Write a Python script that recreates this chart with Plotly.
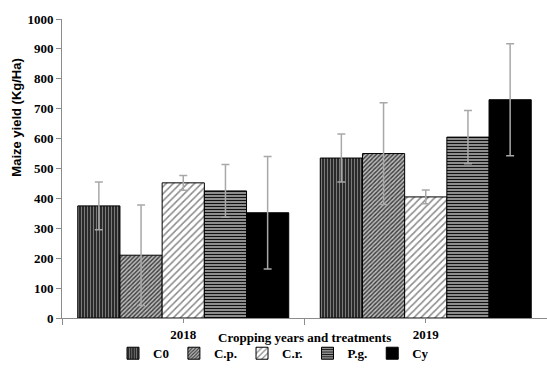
import plotly.graph_objects as go

years = ["2018", "2019"]
treatments = ["C0", "C.p.", "C.r.", "P.g.", "Cy"]

# mean yield (Kg/Ha) per treatment, one value per year
yield_mean = {
    "C0":   [375, 535],
    "C.p.": [210, 550],
    "C.r.": [452, 405],
    "P.g.": [425, 605],
    "Cy":   [352, 730],
}
# standard deviation per treatment, one value per year
yield_sd = {
    "C0":   [80, 80],
    "C.p.": [168, 170],
    "C.r.": [25, 23],
    "P.g.": [88, 89],
    "Cy":   [188, 187],
}

y_ticks = list(range(0, 1001, 100))

fills = {
    "C0":   dict(shape="|", bgcolor="#2a2a2a", fgcolor="#7a7a7a", size=3, solidity=0.35),
    "C.p.": dict(shape="/", bgcolor="#bcbcbc", fgcolor="#3a3a3a", size=3, solidity=0.45),
    "C.r.": dict(shape="/", bgcolor="#ffffff", fgcolor="#8a8a8a", size=5, solidity=0.3),
    "P.g.": dict(shape="-", bgcolor="#c8c8c8", fgcolor="#111111", size=3, solidity=0.55),
    "Cy":   dict(shape="", bgcolor="#000000", fgcolor="#000000", size=4, solidity=0.5),
}

serif = "Liberation Serif"
x_pos = list(range(len(years)))

fig = go.Figure()
for t in treatments:
    p = fills[t]
    fig.add_trace(go.Bar(
        name=t,
        x=x_pos,
        y=yield_mean[t],
        marker=dict(
            color=p["bgcolor"],
            line=dict(color="#000000", width=1),
            pattern=dict(shape=p["shape"], fgcolor=p["fgcolor"], bgcolor=p["bgcolor"],
                         size=p["size"], solidity=p["solidity"], fillmode="replace"),
        ),
        error_y=dict(type="data", array=yield_sd[t], visible=True,
                     color="#a8a8a8", thickness=1.5, width=4),
    ))

fig.update_layout(
    width=547, height=368,
    margin=dict(l=62, r=0, t=19, b=50, autoexpand=False),
    paper_bgcolor="white", plot_bgcolor="white",
    barmode="group", bargap=0.13, bargroupgap=0,
    font=dict(family=serif, size=13, color="#000000"),
    showlegend=True,
    legend=dict(orientation="h", x=0.5, xref="container", xanchor="center",
                y=0.04, yref="container", yanchor="middle",
                font=dict(family=serif, size=13, color="#000000", weight="bold"),
                itemwidth=30, tracegroupgap=0, traceorder="normal",
                bgcolor="rgba(0,0,0,0)"),
    annotations=[
        dict(text="<b>Cropping years and treatments</b>", x=0.5, xref="x",
             y=-0.035, yref="paper", yanchor="top", showarrow=False,
             font=dict(family=serif, size=13, color="#000000")),
        # vertical axis title, sitting in the left margin
        dict(text="<b>Maize yield (Kg/Ha)</b>", textangle=-90,
             x=0, xref="paper", xanchor="center", xshift=-45,
             y=0.67, yref="paper", yanchor="middle",
             showarrow=False,
             font=dict(family="Liberation Sans", size=13, color="#000000")),
    ],
)

fig.update_xaxes(
    range=[-0.5, 1.5], tickvals=x_pos, ticktext=[f"<b>{y}</b>" for y in years],
    showline=True, linecolor="#8c8c8c", linewidth=1,
    ticks="outside", ticklen=4, tickcolor="#8c8c8c",
    minor=dict(tickvals=[-0.5, 0.5, 1.5], ticks="outside", ticklen=6, tickcolor="#8c8c8c"),
    showgrid=False, zeroline=False,
    tickfont=dict(family=serif, size=13, color="#000000"),
)
fig.update_yaxes(
    range=[0, 1000], tickvals=y_ticks, ticktext=[f"<b>{v}</b>" for v in y_ticks],
    showline=True, linecolor="#8c8c8c", linewidth=1,
    ticks="outside", ticklen=5, tickcolor="#8c8c8c",
    showgrid=False, zeroline=False,
    tickfont=dict(family=serif, size=13, color="#000000"),
)

fig.write_html("out.html")
